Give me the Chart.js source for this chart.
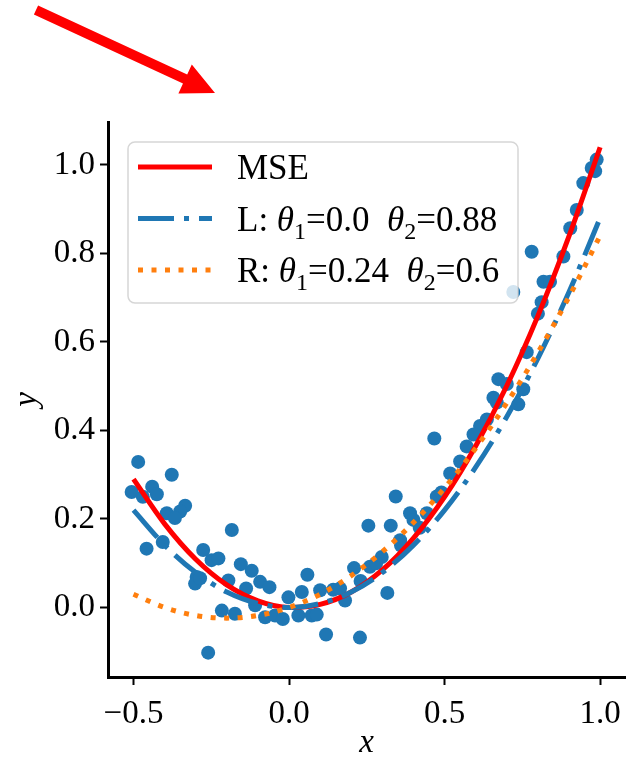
<!DOCTYPE html>
<html>
<head>
<meta charset="utf-8">
<script src="https://cdn.jsdelivr.net/npm/chart.js@4.4.0/dist/chart.umd.min.js"></script>
<style>
body{margin:0;background:#fff;}
#wrap{position:relative;width:634px;height:763px;}
#arrow{position:absolute;left:0;top:0;}
</style>
</head>
<body>
<div id="wrap">
<canvas id="chartFit" width="634" height="763"></canvas>
<svg id="arrow" width="240" height="110"><polygon points="38.1,5.5 187.2,74.6 191.8,64.6 215,93 178.4,93.6 183,83.6 33.9,14.5" fill="#ff0000"/></svg>
</div>
<script>
//CURVES (at x step 0.1)
var curveX = [-0.5,-0.4,-0.3,-0.2,-0.1,0.0,0.1,0.2,0.3,0.4,0.5,0.6,0.7,0.8,0.9,1.0];
var mseY = [0.29,0.189,0.109,0.051,0.015,0.0,0.007,0.035,0.085,0.157,0.25,0.365,0.501,0.659,0.839,1.04];
var lY = [0.22,0.141,0.079,0.035,0.009,0.0,0.009,0.035,0.079,0.141,0.22,0.317,0.431,0.563,0.713,0.88];
var rY = [0.03,0.0,-0.018,-0.024,-0.018,0.0,0.03,0.072,0.126,0.192,0.27,0.36,0.462,0.576,0.702,0.84];

//SAMPLES
var pointX = [-0.485,-0.377,-0.506,-0.47,-0.44,-0.425,-0.334,-0.35,-0.393,-0.367,
	-0.458,-0.406,-0.184,-0.276,-0.249,-0.227,-0.297,-0.302,-0.286,-0.155,
	-0.195,-0.216,-0.174,-0.26,-0.12,-0.093,-0.063,-0.138,-0.109,-0.002,
	0.041,0.059,0.10,0.18,0.209,-0.077,-0.045,-0.02,0.03,0.073,
	0.089,0.119,0.228,0.142,0.164,
	0.467,0.343,0.255,0.327,0.389,0.40,0.357,0.298,0.26,0.316,
	0.443,0.475,0.518,0.55,0.571,0.614,0.636,0.593,0.668,0.657,
	0.673,0.70,0.737,0.753,0.764,0.721,0.80,0.812,0.818,0.839,
	0.78,0.882,0.904,0.925,0.946,0.973,0.984,0.989,0.28,0.36,
	0.42,0.49,0.23];
var pointY = [0.329,0.300,0.261,0.25,0.273,0.256,0.23,0.217,0.213,0.202,
	0.133,0.148,0.175,0.130,0.107,0.111,0.069,0.054,0.066,0.098,
	0.061,-0.007,-0.014,-0.102,0.083,0.058,0.046,0.043,0.005,0.023,
	0.035,0.074,0.039,0.016,0.089,-0.022,-0.018,-0.026,-0.018,-0.018,
	-0.016,-0.061,-0.068,0.04,0.043,
	0.382,0.251,0.185,0.185,0.213,0.198,0.152,0.114,0.092,0.033,
	0.213,0.251,0.303,0.33,0.364,0.41,0.425,0.391,0.463,0.474,
	0.516,0.505,0.459,0.493,0.577,0.713,0.664,0.69,0.736,0.736,
	0.804,0.793,0.857,0.898,0.959,0.993,0.986,1.012,0.10,0.14,
	0.18,0.26,0.06];

//LEGEND TEXT PIECES (n normal, i italic, s subscript)
var mseLegend = [["MSE","n"]];
var lLegend = [["L: ","n"],["\u03b8","i"],["1","s"],["=0.0  ","n"],["\u03b8","i"],["2","s"],["=0.88","n"]];
var rLegend = [["R: ","n"],["\u03b8","i"],["1","s"],["=0.24  ","n"],["\u03b8","i"],["2","s"],["=0.6","n"]];

var serif = "'Liberation Serif', 'Times New Roman', serif";

//FUNCTION TO JOIN X AND Y LISTS
function toPoints(xs, ys){
	var out = [];
	for (var i = 0; i < xs.length; i++){
		out.push({x: xs[i], y: ys[i]});
	}
	return out;
}

//FUNCTION TO FORMAT TICKS LIKE MATPLOTLIB
function fmtTick(v){
	if (Math.abs(v) < 1e-9) v = 0;
	return v.toFixed(1).replace("-", "\u2212");
}

function roundRect(c, x, y, w, h, r){
	c.beginPath();
	c.moveTo(x + r, y);
	c.arcTo(x + w, y, x + w, y + h, r);
	c.arcTo(x + w, y + h, x, y + h, r);
	c.arcTo(x, y + h, x, y, r);
	c.arcTo(x, y, x + w, y, r);
	c.closePath();
}

function drawParts(c, parts, x, base){
	for (var i = 0; i < parts.length; i++){
		var p = parts[i], dy = 0;
		if (p[1] === "i") c.font = "italic 35px " + serif;
		else if (p[1] === "s"){ c.font = "24px " + serif; dy = 8; }
		else c.font = "35px " + serif;
		c.fillText(p[0], x, base + dy);
		x += c.measureText(p[0]).width;
	}
}

//LEGEND WITH ROUNDED FRAME
var legendBox = {
	id: "legendBox",
	afterDatasetsDraw: function(chart){
		var c = chart.ctx, a = chart.chartArea;
		var rows = [mseLegend, lLegend, rLegend];
		var bx = a.left + 20, by = a.top + 20, bw = 390, bh = 161;
		c.save();
		roundRect(c, bx, by, bw, bh, 7);
		c.fillStyle = "rgba(255,255,255,0.8)";
		c.fill();
		c.strokeStyle = "rgba(204,204,204,0.8)";
		c.lineWidth = 1.5;
		c.stroke();
		for (var i = 0; i < rows.length; i++){
			var ds = chart.data.datasets[i];
			var ry = by + 25 + i * 51.5;
			c.beginPath();
			c.setLineDash(ds.borderDash || []);
			c.lineWidth = ds.borderWidth;
			c.strokeStyle = ds.borderColor;
			c.moveTo(bx + 10, ry);
			c.lineTo(bx + 84, ry);
			c.stroke();
			c.setLineDash([]);
			c.fillStyle = "#000";
			c.textBaseline = "alphabetic";
			drawParts(c, rows[i], bx + 109, ry + 12);
		}
		c.restore();
	}
};

var ctx = document.getElementById("chartFit");
var myChart = new Chart(ctx, {
	type: "scatter",
	data: {
		datasets: [
			{label: "MSE", data: toPoints(curveX, mseY), showLine: true, borderColor: "#ff0000", borderWidth: 5,
				pointRadius: 0, cubicInterpolationMode: "monotone", order: 2},
			{label: "L", data: toPoints(curveX, lY), showLine: true, borderColor: "#1f77b4", borderWidth: 5,
				borderDash: [36, 10, 5, 10], pointRadius: 0, cubicInterpolationMode: "monotone", order: 1},
			{label: "R", data: toPoints(curveX, rY), showLine: true, borderColor: "#ff7f0e", borderWidth: 5,
				borderDash: [5, 8.5], pointRadius: 0, cubicInterpolationMode: "monotone", order: 0},
			{label: "data", data: toPoints(pointX, pointY), backgroundColor: "#1f77b4", pointRadius: 7,
				pointBorderWidth: 0, order: 3}
		]
	},
	options: {
		responsive: false,
		animation: false,
		devicePixelRatio: 1,
		layout: {padding: {left: 0, top: 122, right: 9, bottom: 0}},
		plugins: {legend: {display: false}, tooltip: {enabled: false}},
		scales: {
			x: {
				type: "linear", position: "bottom", min: -0.582, max: 1.08,
				border: {display: true, color: "#000", width: 3},
				grid: {drawOnChartArea: false, drawTicks: true, tickLength: 8, tickWidth: 2, tickColor: "#000"},
				ticks: {stepSize: 0.5, includeBounds: false, color: "#000", font: {family: serif, size: 33},
					padding: 10, maxRotation: 0, callback: fmtTick},
				title: {display: true, text: "x", color: "#000", font: {family: serif, size: 33, style: "italic"},
					padding: {top: 0, bottom: 0}},
				afterFit: function(s){ s.height = 86; }
			},
			y: {
				type: "linear", position: "left", min: -0.157, max: 1.097,
				border: {display: true, color: "#000", width: 3},
				grid: {drawOnChartArea: false, drawTicks: true, tickLength: 8, tickWidth: 2, tickColor: "#000"},
				ticks: {stepSize: 0.2, includeBounds: false, color: "#000", font: {family: serif, size: 33},
					padding: 5, callback: fmtTick},
				title: {display: true, text: "y", color: "#000", font: {family: serif, size: 33, style: "italic"},
					padding: {top: 8, bottom: 0}},
				afterFit: function(s){ s.width = 108; }
			}
		}
	},
	plugins: [legendBox]
});
</script>
</body>
</html>
